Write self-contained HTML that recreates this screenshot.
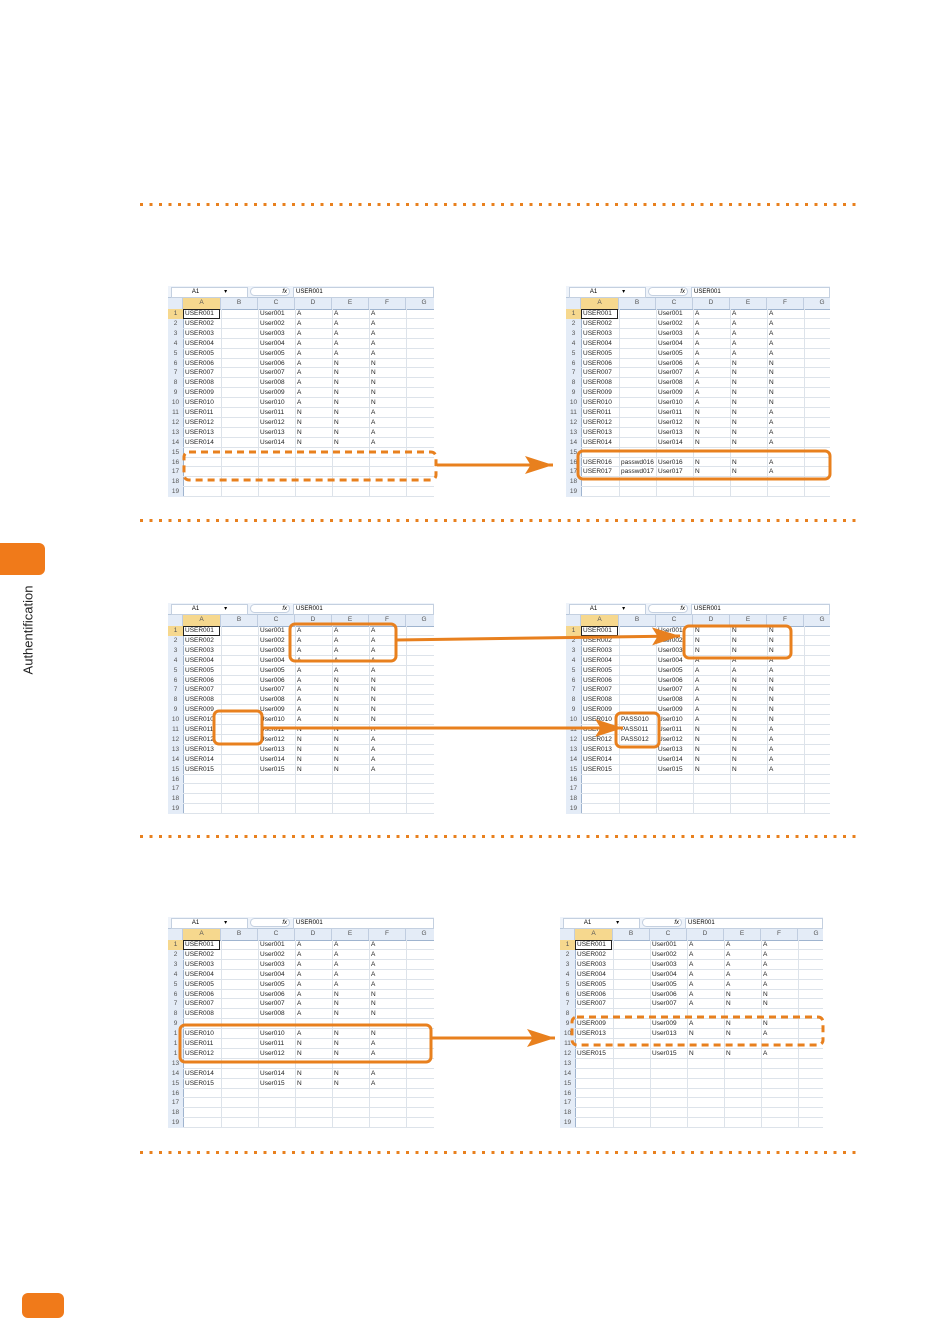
<!DOCTYPE html>
<html><head><meta charset="utf-8">
<style>
body{margin:0;width:950px;height:1344px;position:relative;background:#fff;font-family:"Liberation Sans",sans-serif;overflow:hidden}
.sep{position:absolute;left:140px;width:720px;height:3px;background-image:repeating-linear-gradient(90deg,#e8801e 0 3px,transparent 3px 9.5px)}
.sh{position:absolute;background:#fff;overflow:hidden}
.c{position:absolute;font-size:6.5px;line-height:10px;color:#222;white-space:nowrap;box-sizing:border-box;padding-left:2px}
</style></head><body>
<div class="sep" style="top:203px"></div>
<div class="sep" style="top:519px"></div>
<div class="sep" style="top:835px"></div>
<div class="sep" style="top:1151px"></div>
<div style="position:absolute;left:0;top:543px;width:45px;height:32px;background:#f07a1a;border-radius:0 6px 6px 0"></div>
<div style="position:absolute;left:28px;top:630px;transform:translate(-50%,-50%) rotate(-90deg);font-size:13px;color:#222;white-space:nowrap">Authentification</div>
<div style="position:absolute;left:22px;top:1293px;width:42px;height:25px;background:#f07a1a;border-radius:6px"></div>
<div id="root"></div>
<svg style="position:absolute;left:0;top:0" width="950" height="1344">
<defs>
<marker id="a2" viewBox="0 0 10 10" markerWidth="28" markerHeight="18" refX="10" refY="5" orient="auto" markerUnits="userSpaceOnUse" preserveAspectRatio="none"><path d="M0,0 L10,5 L0,10 L2,5z" fill="#e8801e"/></marker></defs>
<g fill="none" stroke="#e8801e" stroke-width="3">
<rect x="184" y="452" width="252" height="28" rx="5" stroke-dasharray="7,5"/>
<line x1="437" y1="465" x2="553" y2="465" marker-end="url(#a2)"/>
<rect x="578" y="451" width="252" height="28" rx="5"/>
<rect x="290" y="624" width="106" height="37" rx="5"/>
<line x1="396" y1="640" x2="680" y2="636" marker-end="url(#a2)"/>
<rect x="684" y="626" width="107" height="32" rx="5"/>
<rect x="214" y="711" width="48" height="33" rx="5"/>
<line x1="262" y1="728" x2="623" y2="728" marker-end="url(#a2)"/>
<rect x="616" y="713" width="43" height="34" rx="5"/>
<rect x="180" y="1025" width="251" height="37" rx="5"/>
<line x1="431" y1="1038" x2="555" y2="1038" marker-end="url(#a2)"/>
<rect x="572" y="1017" width="251" height="28" rx="5" stroke-dasharray="7,5"/>
</g></svg>
<script>
function sheet(x,y,w,rows){
 var h=211,s='<div class="sh" style="left:'+x+'px;top:'+y+'px;width:'+w+'px;height:'+h+'px">';
 s+='<div style="position:absolute;left:0;top:0;width:100%;height:11px;background:#eef3fa;border-bottom:1px solid #b8c8dc"></div>';
 s+='<div style="position:absolute;left:3px;top:1px;width:75px;height:9px;background:#fff;border:1px solid #c4d0e0;font-size:6px;line-height:9px;text-align:center">A1 &nbsp; &nbsp; &nbsp; &nbsp; &nbsp; &nbsp; &nbsp; ▾</div>';
 s+='<div style="position:absolute;left:82px;top:1px;width:40px;height:9px;border:1px solid #c4d0e0;border-radius:5px;background:#fff;font-size:6px;line-height:9px;text-align:right;padding-right:2px;box-sizing:border-box"><i>fx</i></div>';
 s+='<div style="position:absolute;left:125px;top:1px;right:0;height:9px;background:#fff;border:1px solid #c4d0e0;font-size:6px;line-height:9px;padding-left:2px">USER001</div>';
 var cols=[15,38,37,37,37,37,37,37],names=['','A','B','C','D','E','F','G'],cx=[],acc=0;
 for(var i=0;i<cols.length;i++){cx.push(acc);acc+=cols[i];}
 s+='<div style="position:absolute;left:0;top:12px;width:100%;height:11px;background:#e4ecf7;border-bottom:1px solid #9fb4cf"></div>';
 for(i=0;i<8;i++){var bg=i==1?'background:#f6d88e;':'';s+='<div class="c" style="left:'+cx[i]+'px;top:12px;width:'+cols[i]+'px;height:11px;text-align:center;padding:0;color:#555;border-right:1px solid #c0cde0;'+bg+'">'+names[i]+'</div>';}
 s+='<div style="position:absolute;left:0;top:23px;width:15px;height:190px;background:#e4ecf7;border-right:1px solid #9fb4cf"></div>';
 var rh=9.9;
 for(var r=0;r<19;r++){var ty=23+r*rh;
  s+='<div style="position:absolute;left:15px;right:0;top:'+(ty+rh-1)+'px;height:1px;background:#dde3ea"></div>';
  s+='<div class="c" style="left:0;top:'+ty+'px;width:15px;text-align:center;padding:0;color:#555;'+(r==0?'background:#f6d88e;':'')+'">'+(rows[r]&&rows[r].n!==undefined?rows[r].n:r+1)+'</div>';
 }
 for(i=2;i<8;i++)s+='<div style="position:absolute;top:23px;bottom:0;left:'+cx[i]+'px;width:1px;background:#dde3ea"></div>';
 s+='<div style="position:absolute;left:15px;top:23px;width:37px;height:10px;border:1px solid #222;box-sizing:border-box"></div>';
 for(r=0;r<19;r++){var d=rows[r];if(!d||!d.v)continue;
  for(i=0;i<6;i++)if(d.v[i])s+='<div class="c" style="left:'+cx[i+1]+'px;top:'+(23+r*rh)+'px">'+d.v[i]+'</div>';}
 return s+'</div>';
}
function p(n){return ('00'+n).slice(-3)}
function u(n,d,e,f,b){return {v:['USER'+p(n),b||'','User'+p(n),d,e,f]}}
function pat(n){return n<=5?['A','A','A']:n<=10?['A','N','N']:['N','N','A']}
function std(k){var a=[];for(var n=1;n<=k;n++){var q=pat(n);a.push(u(n,q[0],q[1],q[2]));}return a;}
var s1l=std(14);
var s1r=std(14);s1r.push({});s1r.push(u(16,'N','N','A','passwd016'));s1r.push(u(17,'N','N','A','passwd017'));
var s2l=std(15);
var s2r=std(15);for(var i=0;i<3;i++){s2r[i].v[3]='N';s2r[i].v[4]='N';s2r[i].v[5]='N';}
for(i=9;i<12;i++)s2r[i].v[1]='PASS0'+(i+1);
var s3l=std(8);s3l.push({});s3l.push(u(10,'A','N','N'));s3l[9].n='1';s3l.push(u(11,'N','N','A'));s3l[10].n='1';s3l.push(u(12,'N','N','A'));s3l[11].n='1';s3l.push({});s3l.push(u(14,'N','N','A'));s3l.push(u(15,'N','N','A'));
var s3r=std(7);s3r.push({});s3r.push(u(9,'A','N','N'));s3r.push(u(13,'N','N','A'));s3r.push({});s3r.push(u(15,'N','N','A'));
var h='';
h+=sheet(168,286,266,s1l)+sheet(566,286,264,s1r);
h+=sheet(168,603,266,s2l)+sheet(566,603,264,s2r);
h+=sheet(168,917,266,s3l)+sheet(560,917,263,s3r);
document.getElementById('root').innerHTML=h;
</script>
</body></html>
